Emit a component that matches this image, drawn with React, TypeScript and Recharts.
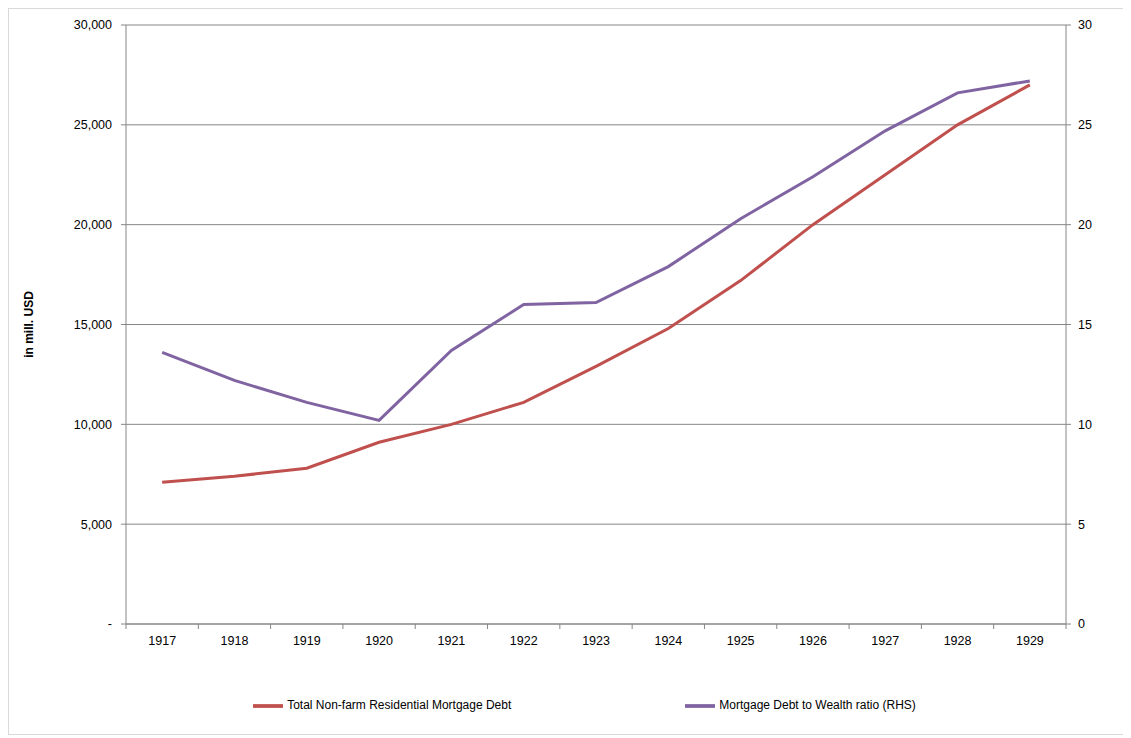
import React from 'react';
import { LineChart, Line, XAxis, YAxis, CartesianGrid, Legend } from 'recharts';

const years = [1917, 1918, 1919, 1920, 1921, 1922, 1923, 1924, 1925, 1926, 1927, 1928, 1929];
const mortgageDebt = [7100, 7400, 7800, 9100, 10000, 11100, 12900, 14800, 17200, 20000, 22500, 25000, 27000];
const debtToWealth = [13.6, 12.2, 11.1, 10.2, 13.7, 16.0, 16.1, 17.9, 20.3, 22.4, 24.7, 26.6, 27.2];
const leftTicks = [0, 5000, 10000, 15000, 20000, 25000, 30000];
const rightTicks = [0, 5, 10, 15, 20, 25, 30];
const boundaryTicks = [1916.5, 1917.5, 1918.5, 1919.5, 1920.5, 1921.5, 1922.5, 1923.5, 1924.5, 1925.5, 1926.5, 1927.5, 1928.5, 1929.5];

const data = years.map((y, i) => ({ year: y, debt: mortgageDebt[i], ratio: debtToWealth[i] }));

const fmt = (v: number) => (v === 0 ? '-' : v.toLocaleString('en-US'));
const tickStyle = { fontSize: 12.5, fill: '#000', fontFamily: 'Liberation Sans, Arial' };

const YearTick = (props: any) => {
  const { x, y, payload } = props;
  const yr = payload.value + 0.5;
  if (!years.includes(yr)) return null;
  return (
    <text x={x + 36.2} y={y + 14} textAnchor="middle" {...tickStyle}>{yr}</text>
  );
};

export default function App() {
  return (
    <div style={{ width: 1123, height: 727, border: '1px solid #d9d9d9', boxSizing: 'border-box', position: 'relative' }}>
      <LineChart width={1121} height={725} data={data} margin={{ top: 16, right: 24, left: 30, bottom: 40 }}>
        <CartesianGrid vertical={false} stroke="#868686" yAxisId="l" xAxisId="b" />
        <XAxis xAxisId="b" type="number" dataKey="year" domain={[1916.5, 1929.5]} ticks={boundaryTicks}
          tick={<YearTick />} tickLine={{ stroke: '#868686' }} tickSize={5} axisLine={{ stroke: '#868686' }} height={40} />
        <YAxis yAxisId="l" domain={[0, 30000]} ticks={leftTicks} tickFormatter={fmt} tick={tickStyle}
          width={87} stroke="#868686" tickSize={5} tickMargin={9}
          label={{ value: 'in mill. USD', angle: -90, position: 'left', offset: 10, style: { fontSize: 12, fontWeight: 'bold', fill: '#000', fontFamily: 'Liberation Sans, Arial', textAnchor: 'middle' } }} />
        <YAxis yAxisId="r" orientation="right" domain={[0, 30]} ticks={rightTicks} tick={tickStyle}
          width={40} stroke="#868686" tickSize={5} tickMargin={7} />
        <Line xAxisId="b" yAxisId="r" dataKey="ratio" stroke="#8064a2" strokeWidth={3} dot={false} isAnimationActive={false}
          name="Mortgage Debt to Wealth ratio (RHS)" />
        <Line xAxisId="b" yAxisId="l" dataKey="debt" stroke="#c0504d" strokeWidth={3} dot={false} isAnimationActive={false}
          name="Total Non-farm Residential Mortgage Debt" />
        <Legend iconType="plainline" iconSize={30}
          itemSorter={(item: any) => (item.dataKey === 'debt' ? 0 : 1)}
          wrapperStyle={{ position: 'absolute', top: 682, left: 102, width: 1121, fontSize: 12, fontFamily: 'Liberation Sans, Arial' }}
          formatter={(v: string) => <span style={{ color: '#000', marginRight: 164 }}>{v}</span>} />
      </LineChart>
    </div>
  );
}
